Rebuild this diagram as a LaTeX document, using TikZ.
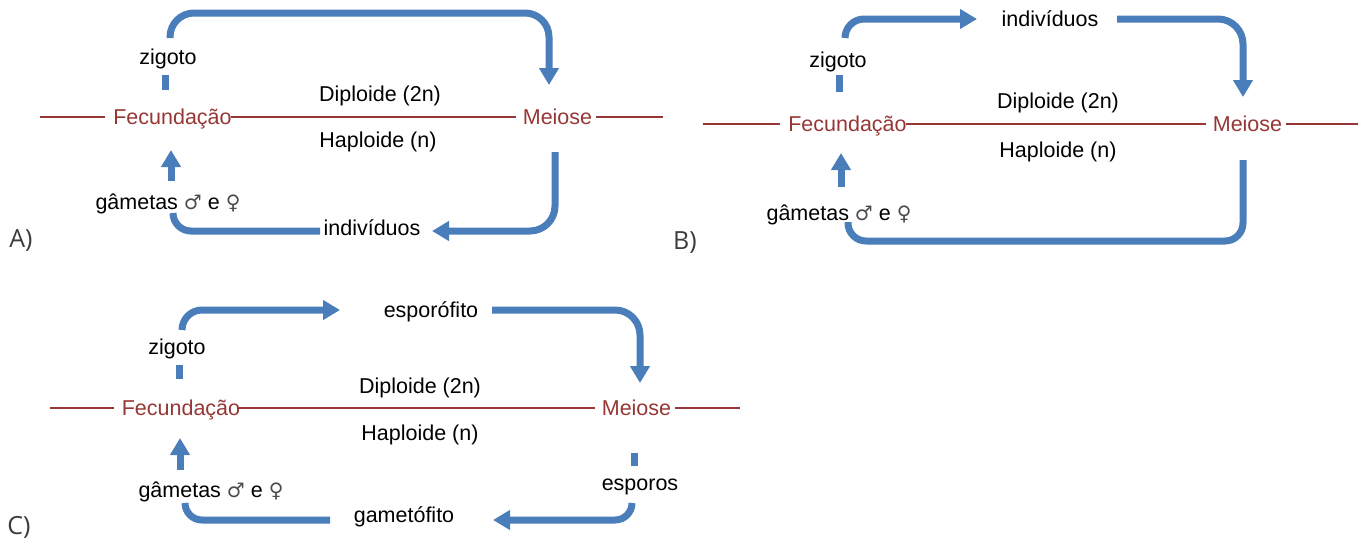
\documentclass[tikz,border=0pt]{standalone}
\usepackage{fontspec}
\setmainfont{Liberation Sans}
\newfontfamily\labfont{Open Sans}
\newfontfamily\symfont{DejaVu Sans}
\usetikzlibrary{arrows.meta}
\definecolor{flowblue}{RGB}{74,126,187}
\definecolor{phase}{RGB}{150,55,53}
\definecolor{labgray}{RGB}{60,60,60}
\newcommand{\gsym}[1]{{\symfont\fontsize{20}{24}\selectfont\color{black!70}#1}}
\tikzset{
  flow/.style={draw=flowblue, line width=7pt},
  tipped/.style={flow, -{Triangle[width=19pt,length=17pt]}},
  cut/.style={draw=phase, line width=1.8pt},
  txt/.style={inner sep=0pt, font=\fontsize{21.5}{24}\selectfont, text height=17pt, text depth=3pt},
  evt/.style={txt, text=phase},
  panel/.style={inner sep=0pt, font=\labfont\fontsize{25}{28}\selectfont, text=labgray}
}
\begin{document}
\begin{tikzpicture}[x=1pt,y=-1pt]
\useasboundingbox (0,0) rectangle (1363,542);

% ================= Panel A =================
\node[evt] (fecA) at (172.5,117) {Fecundação};
\node[evt] (meiA) at (557.5,117) {Meiose};
\node[txt] (zigA) at (168,57) {zigoto};
\node[txt] (dipA) at (380,94) {Diploide (2n)};
\node[txt] (hapA) at (378,140) {Haploide (n)};
\node[txt] (gamA) at (168,202) {gâmetas \gsym{♂} e \gsym{♀}};
\node[txt] (indA) at (372,228) {indivíduos};
\node[panel] (labA) at (21,241) {A)};
\coordinate (lA0) at (40,117);
\coordinate (lA3) at (663,117);
\draw[cut] (lA0) -- ([xshift=-8pt]fecA.west);
\draw[cut] ([xshift=-1pt]fecA.east) -- ([xshift=-7pt]meiA.west);
\draw[cut] ([xshift=4pt]meiA.east) -- (lA3);
\coordinate (dA1) at (165,75); \coordinate (dA2) at (165,90);
\draw[flow] (dA1) -- (dA2);
\coordinate (tA1) at (170,38); \coordinate (tA2) at (549,13); \coordinate (tA3) at (549,85);
\draw[tipped, rounded corners=24pt] (tA1) |- (tA2) -- (tA3);
\coordinate (uA1) at (171,181); \coordinate (uA2) at (171,150);
\draw[tipped] (uA1) -- (uA2);
\coordinate (bA1) at (173,213); \coordinate (bA2) at (320,231);
\draw[flow, rounded corners=18pt] (bA1) |- (bA2);
\coordinate (rA1) at (555,152); \coordinate (rA2) at (432,231);
\draw[tipped, rounded corners=25pt] (rA1) |- (rA2);

% ================= Panel B =================
\node[evt] (fecB) at (847.5,124) {Fecundação};
\node[evt] (meiB) at (1247.5,124) {Meiose};
\node[txt] (zigB) at (838,60) {zigoto};
\node[txt] (indB) at (1050,19) {indivíduos};
\node[txt] (dipB) at (1058,101) {Diploide (2n)};
\node[txt] (hapB) at (1058,150) {Haploide (n)};
\node[txt] (gamB) at (839,213) {gâmetas \gsym{♂} e \gsym{♀}};
\node[panel] (labB) at (685,243) {B)};
\coordinate (lB0) at (703,124);
\coordinate (lB3) at (1358,124);
\draw[cut] (lB0) -- ([xshift=-8pt]fecB.west);
\draw[cut] ([xshift=-1pt]fecB.east) -- ([xshift=-7pt]meiB.west);
\draw[cut] ([xshift=4pt]meiB.east) -- (lB3);
\coordinate (dB1) at (839,75); \coordinate (dB2) at (839,92);
\draw[flow] (dB1) -- (dB2);
\coordinate (tB1) at (845,38); \coordinate (tB2) at (977,19);
\draw[tipped, rounded corners=19pt] (tB1) |- (tB2);
\coordinate (tB3) at (1117,19); \coordinate (tB4) at (1243,97);
\draw[tipped, rounded corners=25pt] (tB3) -| (tB4);
\coordinate (uB1) at (841,187); \coordinate (uB2) at (841,153);
\draw[tipped] (uB1) -- (uB2);
\coordinate (bB1) at (1243,160); \coordinate (bB2) at (848,241); \coordinate (bB3) at (848,222);
\draw[flow, rounded corners=18pt] (bB1) |- (bB2) -- (bB3);

% ================= Panel C =================
\node[evt] (fecC) at (181,408) {Fecundação};
\node[evt] (meiC) at (636.5,408) {Meiose};
\node[txt] (zigC) at (177,347) {zigoto};
\node[txt] (espC) at (431,310) {esporófito};
\node[txt] (dipC) at (420,386) {Diploide (2n)};
\node[txt] (hapC) at (420,433) {Haploide (n)};
\node[txt] (gamC) at (211,490) {gâmetas \gsym{♂} e \gsym{♀}};
\node[txt] (gmtC) at (404,515) {gametófito};
\node[txt] (sprC) at (640,483) {esporos};
\node[panel] (labC) at (19,527) {C)};
\coordinate (lC0) at (50,408);
\coordinate (lC3) at (740,408);
\draw[cut] (lC0) -- ([xshift=-8pt]fecC.west);
\draw[cut] ([xshift=-1pt]fecC.east) -- ([xshift=-7pt]meiC.west);
\draw[cut] ([xshift=4pt]meiC.east) -- (lC3);
\coordinate (dC1) at (179,365); \coordinate (dC2) at (179,379);
\draw[flow] (dC1) -- (dC2);
\coordinate (tC1) at (182,330); \coordinate (tC2) at (340,310);
\draw[tipped, rounded corners=20pt] (tC1) |- (tC2);
\coordinate (tC3) at (492,310); \coordinate (tC4) at (640,383);
\draw[tipped, rounded corners=25pt] (tC3) -| (tC4);
\coordinate (uC1) at (180,470); \coordinate (uC2) at (180,438);
\draw[tipped] (uC1) -- (uC2);
\coordinate (bC1) at (185,503); \coordinate (bC2) at (330,520);
\draw[flow, rounded corners=17pt] (bC1) |- (bC2);
\coordinate (sC1) at (634,453); \coordinate (sC2) at (634,466);
\draw[flow] (sC1) -- (sC2);
\coordinate (rC1) at (632,503); \coordinate (rC2) at (493,520);
\draw[tipped, rounded corners=17pt] (rC1) |- (rC2);
\end{tikzpicture}
\end{document}
